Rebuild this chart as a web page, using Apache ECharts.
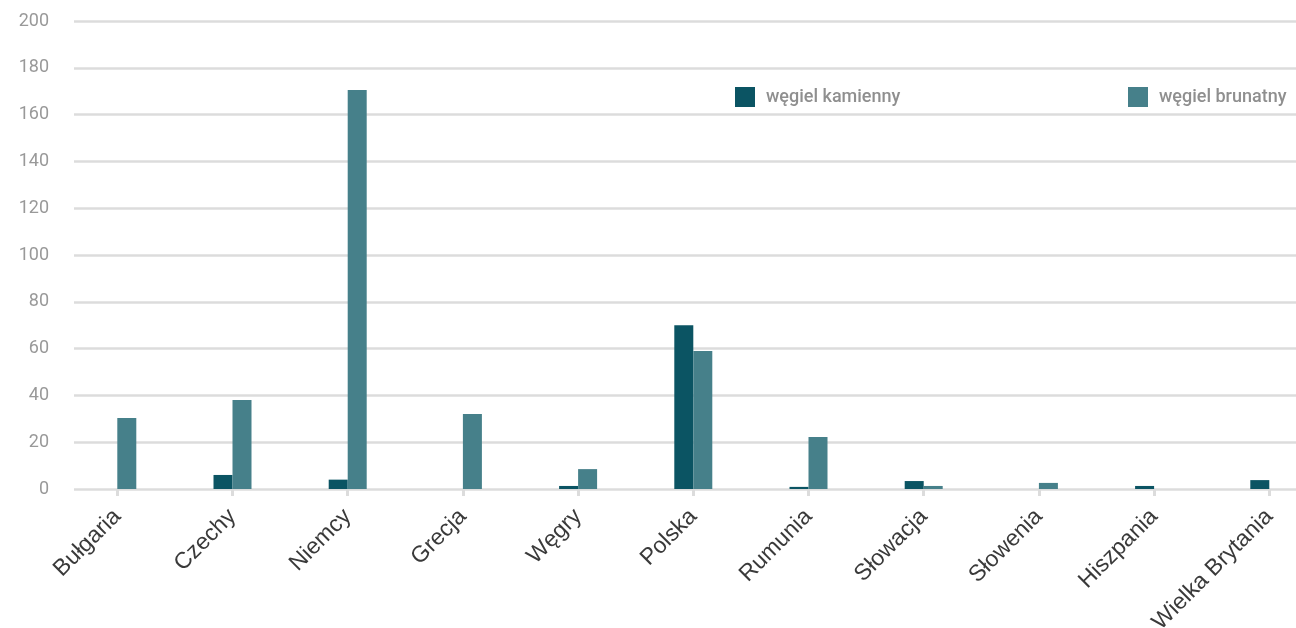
<!DOCTYPE html>
<html>
<head>
<meta charset="utf-8">
<script src="https://cdn.jsdelivr.net/npm/echarts@6/dist/echarts.min.js"></script>
<style>html,body{margin:0;padding:0;background:#fff;}#c{width:1296px;height:628px;}</style>
</head>
<body>
<div id="c"></div>
<script>
const categories = ['Bułgaria','Czechy','Niemcy','Grecja','Węgry','Polska','Rumunia','Słowacja','Słowenia','Hiszpania','Wielka Brytania'];
const kamienny = [0, 6, 4, 0, 1.3, 70, 0.9, 3.4, 0, 1.3, 3.8];
const brunatny = [30.3, 38, 170.5, 32, 8.5, 59, 22.2, 1.3, 2.6, 0, 0];
const seriesNames = ['węgiel kamienny', 'węgiel brunatny'];

const legendText = {color: '#8f8f8f', fontFamily: 'Roboto', fontSize: 18, fontWeight: 500, padding: [0, 0, 0, 6]};
const chart = echarts.init(document.getElementById('c'));
chart.setOption({
  animation: false,
  legend: [
    {data: [seriesNames[0]], left: 730, top: 82, itemWidth: 20, itemHeight: 20, icon: 'rect', textStyle: legendText},
    {data: [seriesNames[1]], left: 1123, top: 82, itemWidth: 20, itemHeight: 20, icon: 'rect', textStyle: legendText}
  ],
  grid: [
    {left: 59.7, width: 1267.2, top: 21, bottom: 139, containLabel: false, outerBoundsMode: 'none'},
    {left: 74, right: 0, top: 21, bottom: 139, containLabel: false, outerBoundsMode: 'none'}
  ],
  xAxis: [
    {type: 'category', gridIndex: 0, data: categories, boundaryGap: true,
     axisLine: {show: false},
     axisTick: {show: true, alignWithLabel: true, length: 7, lineStyle: {color: '#dcdcdc', width: 3}},
     axisLabel: {rotate: 45, interval: 0, margin: 24, color: '#3a3a3a', fontFamily: 'Liberation Sans', fontSize: 23}},
    {type: 'value', gridIndex: 1, show: false, min: 0, max: 1}
  ],
  yAxis: [
    {type: 'value', gridIndex: 0, min: 0, max: 200, interval: 20, show: false},
    {type: 'value', gridIndex: 1, min: 0, max: 200, interval: 20,
     axisLine: {show: false}, axisTick: {show: false},
     axisLabel: {color: '#999', fontFamily: 'Roboto', fontSize: 18, margin: 25},
     splitLine: {lineStyle: {color: '#dcdcdc', width: 2.5}}}
  ],
  series: [
    {name: seriesNames[0], type: 'bar', xAxisIndex: 0, yAxisIndex: 0, data: kamienny,
     barWidth: 19, barGap: '0%', itemStyle: {color: '#0b5463'}, z: 3},
    {name: seriesNames[1], type: 'bar', xAxisIndex: 0, yAxisIndex: 0, data: brunatny,
     barWidth: 19, barGap: '0%', itemStyle: {color: '#46808a'}, z: 3}
  ]
});
</script>
</body>
</html>
